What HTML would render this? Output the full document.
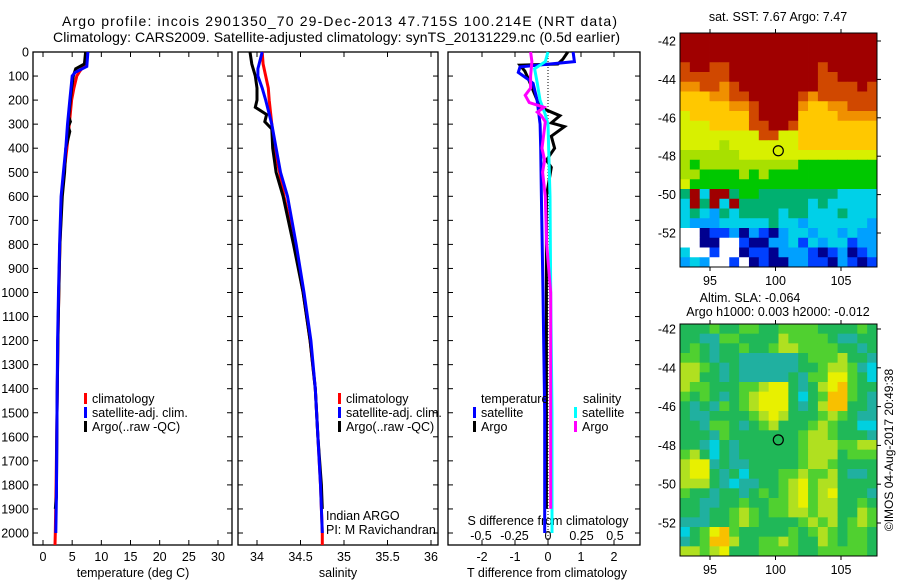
<!DOCTYPE html>
<html><head><meta charset="utf-8"><style>
body{margin:0;background:#fff}
svg{display:block;font-family:"Liberation Sans",sans-serif}
text{fill:#000}
</style></head><body>
<svg id="fig" width="900" height="580" viewBox="0 0 900 580" xmlns="http://www.w3.org/2000/svg">
<text x="62" y="26" font-size="14" textLength="555">Argo profile: incois 2901350_70 29-Dec-2013 47.715S 100.214E (NRT data)</text>
<text x="53" y="42" font-size="14" textLength="567">Climatology: CARS2009. Satellite-adjusted climatology: synTS_20131229.nc (0.5d earlier)</text>
<text x="778" y="21" font-size="12.5" text-anchor="middle">sat. SST: 7.67 Argo: 7.47</text>
<text x="750" y="302" font-size="12.5" text-anchor="middle">Altim. SLA: -0.064</text>
<text x="778" y="316" font-size="12.5" text-anchor="middle">Argo h1000: 0.003 h2000: -0.012</text>
<text transform="translate(893,450) rotate(-90)" font-size="12" text-anchor="middle">©IMOS 04-Aug-2017 20:49:38</text>
</svg>
<script>
// ---------- data ----------
const depthTicks=[0,100,200,300,400,500,600,700,800,900,1000,1100,1200,1300,1400,1500,1600,1700,1800,1900,2000];
const tempTicks=[0,5,10,15,20,25,30];
const salTicks=[34,34.5,35,35.5,36];
const salTickLabels=["34","34.5","35","35.5","36"];
const tdiffTicks=[-2,-1,0,1,2];
const sdiffTicks=[-0.5,-0.25,0,0.25,0.5];
const sdiffTickLabels=["-0.5","-0.25","0","0.25","0.5"];

const tClimDepth=[0,50,80,100,150,200,300,400,500,600,800,1000,1200,1500,1800,2000,2050];
const tClimVal=[7.5,7.3,6.3,5.8,5.3,4.9,4.5,4.1,3.6,3.2,2.9,2.7,2.55,2.4,2.25,2.1,2.05];
const tSatDepth=[0,60,85,100,150,200,300,400,500,600,800,1000,1200,1500,1850,2000];
const tSatVal=[7.7,7.5,5.5,5.0,4.8,4.6,4.2,3.9,3.5,3.1,2.85,2.65,2.5,2.4,2.3,2.2];
const tArgoDepth=[0,50,70,100,150,200,270,290,310,330,400,500,600,800,1000,1200,1500,1850,1900];
const tArgoVal=[7.3,7.1,5.6,5.2,4.9,4.7,4.4,4.7,4.3,4.6,3.9,3.7,3.3,2.9,2.7,2.55,2.4,2.3,2.1];

const sClimDepth=[0,50,100,150,200,300,400,500,600,800,1000,1200,1400,1600,1800,2000,2050];
const sClimVal=[34.06,34.07,34.10,34.13,34.14,34.17,34.2,34.26,34.31,34.43,34.53,34.61,34.67,34.7,34.73,34.75,34.75];
const sSatDepth=[0,70,100,150,200,300,400,500,600,800,1000,1200,1400,1600,1800,2000];
const sSatVal=[34.06,34.01,34.01,34.06,34.1,34.17,34.22,34.27,34.35,34.45,34.54,34.62,34.67,34.7,34.73,34.75];
const sArgoDepth=[0,50,100,150,200,230,260,290,320,400,450,500,550,600,800,1000,1200,1400,1600,1800,1900];
const sArgoVal=[33.92,33.94,33.98,34.0,34.0,33.98,34.11,34.09,34.17,34.18,34.2,34.22,34.26,34.3,34.42,34.53,34.61,34.67,34.7,34.74,34.75];

const dtSatDepth=[0,40,62,85,110,130,200,300,400,600,1000,1500,2000];
const dtSatVal=[0.76,0.8,-0.85,-0.9,-0.64,-0.45,-0.33,-0.24,-0.22,-0.2,-0.15,-0.1,-0.1];
const dtArgoDepth=[0,30,50,55,80,110,200,230,265,295,310,350,400,450,480,600,1000,1500,1900];
const dtArgoVal=[0.6,0.45,0.3,-0.85,-0.7,-0.6,-0.33,-0.24,0.36,0.1,0.5,0.1,0.2,-0.05,0.1,-0.05,-0.05,-0.05,-0.05];
const dsSatDepth=[0,40,70,130,200,260,300,600,1000,1500,2000];
const dsSatVal=[0.0,-0.02,-0.1,-0.08,-0.06,-0.02,0.0,0.015,0.02,0.03,0.03];
const dsArgoDepth=[0,40,100,150,180,210,230,250,265,290,400,450,500,600,800,1000,1400,1900];
const dsArgoVal=[-0.13,-0.12,-0.13,-0.13,-0.17,-0.14,-0.03,-0.08,-0.05,-0.02,-0.045,-0.025,-0.04,-0.02,-0.01,0.02,0.02,0.02];

const lonTicks=[95,100,105];
const latTicks=[-42,-44,-46,-48,-50,-52];
const argoLon=100.214, argoLat=-47.715;
const sstPalette=["#00008f","#0040ff","#00a0ff","#00d0e8","#00b070","#00c800","#a8e000","#d8f000","#ffc800","#f09000","#d04800","#a00000"];
const sstGrid=[
"bbbbbbbbbbbbbbbbbbbb","bbbbbbbbbbbbbbbbbbbb","bbbbbbbbbbbbbbbbbbbb","abbaabbbbbbbbbabbbbb",
"aaaaabbbbbbbbbaabbbb","99aa9abbbbbbbbaaaaba","88899aabbbbba9aaaaaa","8888899abbbb98899aaa",
"7888888abbbb88889999","7778888aabba88888888","77777777aa7788888888","77776777777788888888",
"66666677777777777777","65666666666655555555","66555565655555555555","75555555555555555555",
"4b3bb455444444443333","3b4b3b44444443433333","34324344443443334333","32223333343323333332",
"ww011202102332332322","ww00ww10022313233122","3ww1ww01102221012012","232ww1w0100221102101"];
const slaPalette=["#00d0e0","#20b0a0","#20b858","#50d030","#b0e020","#e8f000","#f8c000"];
const slaGrid=[
"22232233223333222232","22113322224333321122","23212232234433332212","33212211111123334221",
"44321211111122344310","44221211111213355320","43322233455212456322","32321234555202366321",
"21213234555212466221","21122223454222343211","22133212342223432200","22213222222234432221",
"22102122222234443344","34202122222234442333","45512112222234432222","45521202223343342112",
"44421011223453442222","32212212323453452221","22112232233453442232","22122343233443442243",
"11122343222234342343","02356322222323432332","12366422334322432332","44345222333322333332"];

// ---------- drawing ----------
const NS="http://www.w3.org/2000/svg";
const svg=document.getElementById('fig');
function el(tag,attrs,parent){const e=document.createElementNS(NS,tag);for(const k in attrs)e.setAttribute(k,attrs[k]);(parent||svg).appendChild(e);return e;}
function txt(s,x,y,size,anchor,parent){const t=el('text',{x:x,y:y,'font-size':size,'text-anchor':anchor||'start'},parent);t.textContent=s;return t;}

const TOP=52,BOT=545;
function yD(d){return 52+d*(533-52)/2000;}
const panels=[
 {name:'temperature-panel',l:33,r:232,x:v=>43+v*(218-43)/30},
 {name:'salinity-panel',l:238,r:438,x:v=>257+(v-34)*87},
 {name:'difference-panel',l:448,r:640,x:v=>548+v*33}
];
const sx=v=>548+v*134;

panels.forEach((p,i)=>{
 const g=el('g',{});
 
 
 const fr=el('rect',{x:p.l,y:TOP,width:p.r-p.l,height:BOT-TOP,fill:'#fff',stroke:'#000','stroke-width':1.3},g);
 
 
});
depthTicks.forEach(d=>{
 const y=yD(d);
 const t=txt(String(d),29,y+4.5,12.5,'end');
 
 
 panels.forEach(p=>{el('line',{x1:p.l,x2:p.l+5,y1:y,y2:y,stroke:'#000'});el('line',{x1:p.r-5,x2:p.r,y1:y,y2:y,stroke:'#000'});});
});
function xTicks(p,vals,labels){
 vals.forEach((v,i)=>{const x=p.x(v);
  el('line',{x1:x,x2:x,y1:BOT,y2:BOT-5,stroke:'#000'});el('line',{x1:x,x2:x,y1:TOP,y2:TOP+5,stroke:'#000'});
  const t=txt(labels?labels[i]:String(v),x,561,12.5,'middle');
  
  
 });
}
xTicks(panels[0],tempTicks);
xTicks(panels[1],salTicks,salTickLabels);
xTicks(panels[2],tdiffTicks);
sdiffTicks.forEach((v,i)=>{const t=txt(sdiffTickLabels[i],sx(v),540,12.5,'middle');
 
 });
let t;
t=txt('temperature (deg C)',133,577,12.5,'middle');
t=txt('salinity',338,577,12.5,'middle');
t=txt('T difference from climatology',547,577,12.5,'middle');
t=txt('S difference from climatology',548,525,12.5,'middle');
el('line',{x1:548,x2:548,y1:TOP,y2:BOT,stroke:'#000','stroke-dasharray':'1,2'});

function series(depths,vals,xf,color,name){
 const pts=depths.map((d,i)=>xf(vals[i]).toFixed(1)+','+yD(d).toFixed(1)).join(' ');
 const pl=el('polyline',{points:pts,fill:'none',stroke:color,'stroke-width':3,'stroke-linejoin':'miter'});
 
 
}
series(tClimDepth,tClimVal,panels[0].x,'#ff0000','temp-climatology-line');
series(tArgoDepth,tArgoVal,panels[0].x,'#000','temp-argo-line');
series(tSatDepth,tSatVal,panels[0].x,'#0000ff','temp-satellite-line');
series(sClimDepth,sClimVal,panels[1].x,'#ff0000','sal-climatology-line');
series(sArgoDepth,sArgoVal,panels[1].x,'#000','sal-argo-line');
series(sSatDepth,sSatVal,panels[1].x,'#0000ff','sal-satellite-line');
series(dtArgoDepth,dtArgoVal,panels[2].x,'#000','tdiff-argo-line');
series(dtSatDepth,dtSatVal,panels[2].x,'#0000ff','tdiff-satellite-line');
series(dsSatDepth,dsSatVal,sx,'#00ffff','sdiff-satellite-line');
series(dsArgoDepth,dsArgoVal,sx,'#ff00ff','sdiff-argo-line');

function legend(x,y,color,label){
 const g=el('g',{});
 
 
 el('rect',{x:x,y:y-10,width:3,height:11,fill:color},g);
 txt(label,x+8,y,12.5,'start',g);
}
[[84,'#ff0000','climatology',403],[84,'#0000ff','satellite-adj. clim.',417],[84,'#000','Argo(..raw -QC)',431]].forEach(a=>{legend(a[0],a[3],a[1],a[2]);legend(a[0]+254,a[3],a[1],a[2]);});
t=txt('temperature',481,403,12.5);
t=txt('salinity',583,403,12.5);
legend(473,417,'#0000ff','satellite');legend(473,431,'#000','Argo');
legend(574,417,'#00ffff','satellite');legend(574,431,'#ff00ff','Argo');
t=txt('Indian ARGO',326,520,12.5);
t=txt('PI: M Ravichandran',326,534,12.5);

function map(name,top,bottom,latTop,latPx,grid,pal){
 const L=680,R=877;
 const g=el('g',{});
 
 
 const rows=grid.length,cols=grid[0].length;
 const cw=(R-L)/cols,ch=(bottom-top)/rows;
 grid.forEach((row,r)=>{for(let c=0;c<cols;c++){const k=row[c];
  const fill=k==='w'?'#fff':pal[parseInt(k,16)];
  const cell=el('rect',{x:(L+c*cw).toFixed(2),y:(top+r*ch).toFixed(2),width:(cw+0.4).toFixed(2),height:(ch+0.4).toFixed(2),fill:fill},g);
  
  
 }});
 el('rect',{x:L,y:top,width:R-L,height:bottom-top,fill:'none',stroke:'#000','stroke-width':1},g);
 const lonX=v=>710+(v-95)*13.1, latY=v=>latTop+(-42-v)*latPx;
 lonTicks.forEach(v=>{const x=lonX(v);el('line',{x1:x,x2:x,y1:top-4,y2:top,stroke:'#000'},g);el('line',{x1:x,x2:x,y1:bottom,y2:bottom+4,stroke:'#000'},g);
  const tt=txt(String(v),x,bottom+18,12.5,'middle',g);});
 latTicks.forEach(v=>{const y=latY(v);el('line',{x1:R,x2:R+4,y1:y,y2:y,stroke:'#000'},g);
  const tt=txt(String(v),676,y+4.5,12.5,'end',g);});
 const m=el('circle',{cx:lonX(argoLon),cy:latY(argoLat),r:5,fill:'none',stroke:'#000','stroke-width':1.2},g);
 
 
}
map('sst-map',33,267,41,19.2,sstGrid,sstPalette);
map('sla-map',324,556,329,19.4,slaGrid,slaPalette);
</script>
</body></html>
